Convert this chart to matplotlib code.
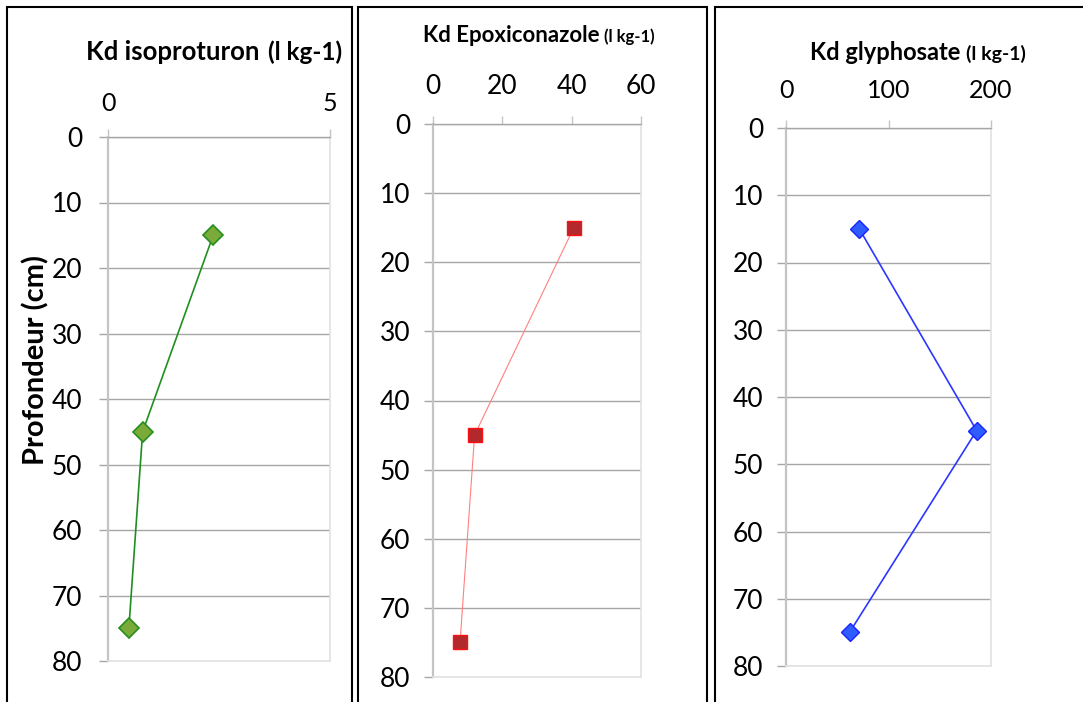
import matplotlib
matplotlib.use("Agg")
import matplotlib.pyplot as plt
from matplotlib.patches import Rectangle

plt.rcParams['font.family'] = ['Lato', 'DejaVu Sans']

# Depth profile data (cm) and sorption coefficients Kd (l kg-1)
depth = [15, 45, 75]
kd_isoproturon = [2.37, 0.78, 0.47]
kd_epoxiconazole = [40.6, 12.0, 7.8]
kd_glyphosate = [71.5, 186, 62]

depth_ticks = [0, 10, 20, 30, 40, 50, 60, 70, 80]
iso_ticks = [0, 5]
epoxi_ticks = [0, 20, 40, 60]
glypho_ticks = [0, 100, 200]

W, H = 1083, 702
fig = plt.figure(figsize=(W / 100, H / 100), dpi=100)
fig.patch.set_facecolor('white')


def px_rect(l, r, t, b):
    return [l / W, 1 - b / H, (r - l) / W, (b - t) / H]


def style_axes(ax, xticks, xmax, ypad=13, xpad=13, xsize=18):
    ax.set_ylim(80, 0)
    ax.set_xlim(0, xmax)
    ax.set_yticks(depth_ticks)
    ax.set_xticks(xticks)
    ax.xaxis.tick_top()
    ax.yaxis.grid(True, color='#a6a6a6', linewidth=1.0)
    ax.xaxis.grid(False)
    ax.set_axisbelow(True)
    for side in ('right', 'bottom'):
        ax.spines[side].set_color('#e2e2e2')
        ax.spines[side].set_linewidth(1.2)
    ax.spines['left'].set_color('#c4c4c4')
    ax.spines['left'].set_linewidth(1.6)
    ax.spines['top'].set_color('#a6a6a6')
    ax.spines['top'].set_linewidth(1.0)
    ax.tick_params(axis='y', direction='out', length=6.5, width=1.0,
                   color='#a6a6a6', labelsize=19, pad=ypad, labelcolor='black')
    ax.tick_params(axis='x', direction='out', length=6, width=1.0,
                   color='#c4c4c4', labelsize=xsize, pad=xpad, labelcolor='black')


ax1 = fig.add_axes(px_rect(108, 330, 137, 661))
ax2 = fig.add_axes(px_rect(433, 641, 124, 677))
ax3 = fig.add_axes(px_rect(786, 991, 128, 666))

style_axes(ax1, iso_ticks, 5, ypad=12, xpad=10)
style_axes(ax2, epoxi_ticks, 60, ypad=10, xpad=12, xsize=19)
style_axes(ax3, glypho_ticks, 200, ypad=10, xpad=13)

ax1.plot(kd_isoproturon, depth, color='#1f8f1f', linewidth=1.2,
         marker='D', markersize=10, markerfacecolor='#7aab3a',
         markeredgecolor='#268f1c', markeredgewidth=1.2, zorder=3)
ax2.plot(kd_epoxiconazole, depth, color='#ff8080', linewidth=0.8,
         marker='s', markersize=10.5, markerfacecolor='#b3282c',
         markeredgecolor='#ff1010', markeredgewidth=1.0, zorder=3)
ax3.plot(kd_glyphosate, depth, color='#2b36ff', linewidth=1.2,
         marker='D', markersize=9.5, markerfacecolor='#2f5cff',
         markeredgecolor='#1a22ff', markeredgewidth=1.0, zorder=3)

# Panel frames
for l, r in [(7, 352), (358, 707), (715, 1100)]:
    fig.patches.append(Rectangle((l / W, -0.05), (r - l) / W, 1 - 7 / H + 0.05,
                                 transform=fig.transFigure, fill=False,
                                 edgecolor='black', linewidth=1.5))

# Titles: compound name in larger bold, unit in smaller bold
renderer = fig.canvas.get_renderer()
titles = [("Kd isoproturon", 86, 60, 18.5, 17.5, 9),
          ("Kd Epoxiconazole", 423, 42, 16, 12, 4),
          ("Kd glyphosate", 810, 60, 17, 14, 6)]
for main, x, y, size, usize, gap in titles:
    t = fig.text(x / W, 1 - y / H, main, fontsize=size, fontweight='bold',
                 ha='left', va='baseline', color='black')
    bb = t.get_window_extent(renderer)
    fig.text((bb.x1 + gap) / W, 1 - y / H, "(l kg-1)", fontsize=usize,
             fontweight='bold', ha='left', va='baseline', color='black')

fig.text(36 / W, 1 - 360 / H, "Profondeur (cm)", rotation=90, fontsize=21,
         fontweight='bold', ha='center', va='center', color='black')

fig.savefig("out.png", dpi=100, facecolor='white')
